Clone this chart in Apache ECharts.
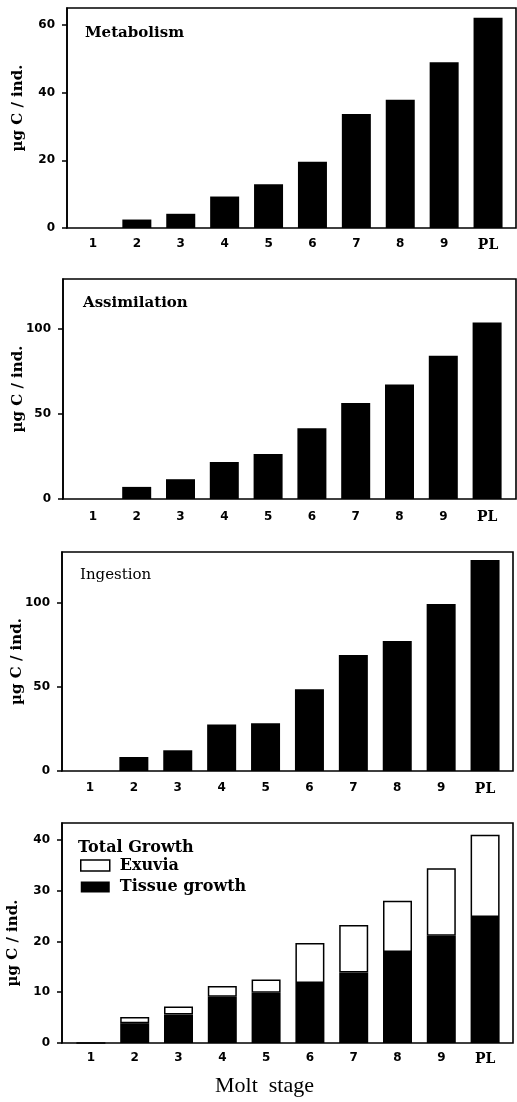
<!DOCTYPE html>
<html>
<head>
<meta charset="utf-8">
<script src="https://cdn.jsdelivr.net/npm/echarts@6/dist/echarts.min.js"></script>
<style>
html,body{margin:0;padding:0;background:#fff;}
#chart{width:517px;height:1102px;}
</style>
</head>
<body>
<div id="chart"></div>
<script>
var categories = ['1','2','3','4','5','6','7','8','9','PL'];
var metabolism = [0, 2.5, 4.2, 9.3, 12.9, 19.6, 33.7, 37.9, 49, 62.1];
var assimilation = [0, 7.1, 11.6, 21.7, 26.4, 41.5, 56.3, 67.1, 84, 103.5];
var ingestion = [0, 8.3, 12.3, 27.6, 28.4, 48.6, 68.8, 77.2, 99.2, 125.2];
var tissueGrowth = [0, 3.9, 5.6, 9.1, 9.9, 11.8, 13.9, 17.9, 21.1, 24.8];
var exuvia = [0, 1.2, 1.6, 2.1, 2.6, 7.9, 9.3, 10.1, 13.3, 16.2];
var yTicks1 = [0, 20, 40, 60];
var yTicks2 = [0, 50, 100];
var yTicks3 = [0, 50, 100];
var yTicks4 = [0, 10, 20, 30, 40];
var yName = 'µg C / ind.';

var frames = [
  {left: 67, top: 8, width: 449, height: 220},
  {left: 63, top: 279, width: 453, height: 220},
  {left: 62, top: 552, width: 451, height: 219},
  {left: 62, top: 823, width: 451, height: 220}
];
var plots = [
  {left: 71, top: 8, width: 439, height: 220},
  {left: 71, top: 279, width: 438, height: 220},
  {left: 68, top: 552, width: 439, height: 219},
  {left: 69, top: 823, width: 438, height: 220}
];
var yMax = [65, 129, 130, 43.3];
var yTicks = [yTicks1, yTicks2, yTicks3, yTicks4];
var labelMargins = [10, 11.5, 11, 9];
var nameGaps = [41.5, 37.5, 37.5, 41.5];
var namePads = [[0,0,0,20],[0,0,0,0],[0,0,0,0],[0,20,0,0]];

var grids = [], xAxes = [], yAxes = [];
plots.forEach(function(p){
  grids.push({left: p.left, top: p.top, width: p.width, height: p.height, show: false,
    containLabel: false, outerBoundsMode: 'none'});
});
frames.forEach(function(f){
  grids.push({left: f.left, top: f.top, width: f.width, height: f.height, show: true,
    containLabel: false, outerBoundsMode: 'none',
    borderColor: '#000', borderWidth: 1.6, backgroundColor: 'transparent'});
});
for (var i = 0; i < 4; i++) {
  xAxes.push({
    type: 'category', gridIndex: i, data: categories,
    axisLine: {show: false}, axisTick: {show: false},
    axisLabel: {
      interval: 0,
      margin: labelMargins[i], color: '#000', fontFamily: 'DejaVu Sans', fontWeight: 'bold', fontSize: 12,
      formatter: function(v){ return v === 'PL' ? '{pl|PL}' : v; },
      rich: {pl: {fontFamily: 'DejaVu Serif', fontWeight: 'bold', fontSize: 14, color: '#000'}}
    }
  });
  yAxes.push({type: 'value', gridIndex: i, min: 0, max: yMax[i], show: false});
}
for (var j = 0; j < 4; j++) {
  xAxes.push({type: 'value', gridIndex: 4 + j, show: false, min: 0, max: 1});
  yAxes.push({
    type: 'value', gridIndex: 4 + j, min: 0, max: yMax[j],
    axisLine: {show: true, lineStyle: {color: '#000', width: 1.6}},
    axisTick: {show: true, length: 5, lineStyle: {color: '#000', width: 1.5}, customValues: yTicks[j]},
    axisLabel: {margin: 12, color: '#000', fontFamily: 'DejaVu Sans', fontWeight: 'bold', fontSize: 12, customValues: yTicks[j]},
    splitLine: {show: false},
    name: yName, nameLocation: 'middle', nameGap: nameGaps[j], nameMoveOverlap: false,
    nameTextStyle: {fontFamily: 'DejaVu Serif', fontWeight: 'bold', fontSize: 15, color: '#000', padding: namePads[j]}
  });
}

var titleStyle = {fontFamily: 'DejaVu Serif', fontWeight: 'bold', fontSize: 15, color: '#000'};
var option = {
  animation: false,
  backgroundColor: '#fff',
  title: [
    {text: 'Metabolism', left: 85, top: 25.5, padding: 0, textStyle: titleStyle},
    {text: 'Assimilation', left: 83, top: 296, padding: 0, textStyle: titleStyle},
    {text: 'Ingestion', left: 80, top: 567.5, padding: 0, textStyle: {fontFamily: 'DejaVu Serif', fontWeight: 'normal', fontSize: 15, color: '#000'}},
    {text: 'Total Growth', left: 78, top: 840, padding: 0, textStyle: {fontFamily: 'DejaVu Serif', fontWeight: 'bold', fontSize: 16, color: '#000'}},
    {text: 'Molt  stage', left: 215, top: 1075, padding: 0, textStyle: {fontFamily: 'Liberation Serif', fontWeight: 'normal', fontSize: 22, color: '#000'}}
  ],
  legend: {
    left: 80, top: 857.5, orient: 'vertical', padding: 0,
    itemWidth: 29, itemHeight: 11, itemGap: 5.5, icon: 'rect',
    textStyle: {fontFamily: 'DejaVu Serif', fontWeight: 'bold', fontSize: 16, color: '#000', lineHeight: 16, padding: [0,0,0,5]},
    data: [
      {name: 'Exuvia', itemStyle: {color: '#fff', borderColor: '#000', borderWidth: 1.5}},
      {name: 'Tissue growth', itemStyle: {color: '#000', borderWidth: 0}}
    ]
  },
  grid: grids,
  xAxis: xAxes,
  yAxis: yAxes,
  series: [
    {type: 'bar', name: 'Metabolism', xAxisIndex: 0, yAxisIndex: 0, data: metabolism, barWidth: 29, itemStyle: {color: '#000'}},
    {type: 'bar', name: 'Assimilation', xAxisIndex: 1, yAxisIndex: 1, data: assimilation, barWidth: 29, itemStyle: {color: '#000'}},
    {type: 'bar', name: 'Ingestion', xAxisIndex: 2, yAxisIndex: 2, data: ingestion, barWidth: 29, itemStyle: {color: '#000'}},
    {type: 'bar', name: 'Tissue growth', xAxisIndex: 3, yAxisIndex: 3, stack: 'growth', data: tissueGrowth, barWidth: 29, itemStyle: {color: '#000'}},
    {type: 'bar', name: 'Exuvia', xAxisIndex: 3, yAxisIndex: 3, stack: 'growth', data: exuvia, barWidth: 29, itemStyle: {color: '#fff', borderColor: '#000', borderWidth: 1.5}}
  ]
};
var chart = echarts.init(document.getElementById('chart'), null, {renderer: 'canvas'});
chart.setOption(option);
</script>
</body>
</html>
